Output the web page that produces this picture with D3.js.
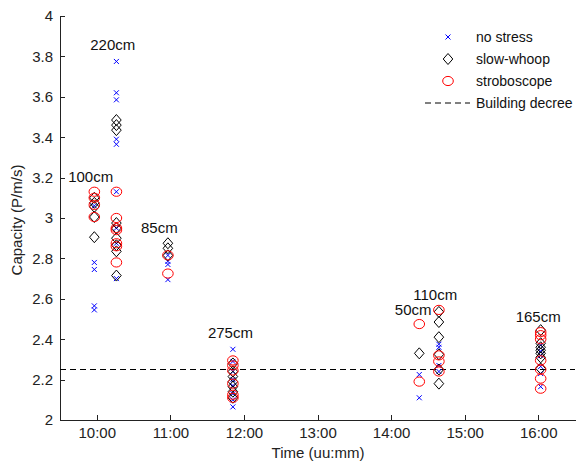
<!DOCTYPE html>
<html lang="en">
<head>
<meta charset="utf-8">
<title>Capacity vs time</title>
<script src="https://d3js.org/d3.v7.min.js"></script>
<style>
  body { margin: 0; background: #fff; }
  svg { font-family: "Liberation Sans", Arial, sans-serif; }
  .axis path, .axis line { stroke: #222; shape-rendering: crispEdges; }
  .axis text { font-size: 15px; fill: #222; font-family: "Liberation Sans", Arial, sans-serif; }
</style>
</head>
<body>
<div id="chart"></div>
<script>
// measured points [time, capacity]
var noStress = [
  ["9:58",3.06],["9:58",2.78],["9:58",2.745],["9:58",2.565],["9:58",2.545],
  ["10:16",3.775],["10:16",3.62],["10:16",3.585],["10:16",3.39],["10:16",3.365],["10:16",3.13],["10:16",2.95],["10:16",2.875],["10:16",2.70],
  ["10:58",2.815],["10:58",2.785],["10:58",2.77],["10:58",2.695],
  ["11:51",2.35],["11:51",2.29],["11:51",2.24],["11:51",2.20],["11:51",2.17],["11:51",2.13],["11:51",2.10],["11:51",2.065],
  ["14:23",2.225],["14:23",2.11],
  ["14:39",2.375],["14:39",2.36],["14:39",2.27],["14:39",2.24],
  ["16:02",2.37],["16:02",2.34],["16:02",2.32],["16:02",2.265],["16:02",2.23],["16:02",2.165]
];
var slowWhoop = [
  ["9:58",3.10],["9:58",3.075],["9:58",3.055],["9:58",3.005],["9:58",2.905],
  ["10:16",3.485],["10:16",3.46],["10:16",3.435],["10:16",2.975],["10:16",2.95],["10:16",2.90],["10:16",2.865],["10:16",2.835],["10:16",2.715],
  ["10:58",2.875],["10:58",2.85],["10:58",2.815],
  ["11:51",2.28],["11:51",2.24],["11:51",2.215],["11:51",2.19],["11:51",2.165],["11:51",2.14],["11:51",2.11],
  ["14:23",2.33],
  ["14:39",2.535],["14:39",2.485],["14:39",2.41],["14:39",2.325],["14:39",2.25],["14:39",2.18],
  ["16:02",2.445],["16:02",2.38],["16:02",2.36],["16:02",2.345],["16:02",2.33],["16:02",2.31],["16:02",2.255]
];
var stroboscope = [
  ["9:58",3.13],["9:58",3.10],["9:58",3.065],["9:58",3.005],
  ["10:16",3.13],["10:16",3.00],["10:16",2.95],["10:16",2.94],["10:16",2.875],["10:16",2.86],["10:16",2.78],
  ["10:58",2.815],["10:58",2.725],
  ["11:51",2.295],["11:51",2.27],["11:51",2.245],["11:51",2.18],["11:51",2.125],["11:51",2.11],
  ["14:23",2.475],["14:23",2.19],
  ["14:39",2.545],["14:39",2.32],["14:39",2.29],["14:39",2.24],
  ["16:02",2.435],["16:02",2.42],["16:02",2.40],["16:02",2.295],["16:02",2.25],["16:02",2.205],["16:02",2.155]
];
var decree = 2.25;

// height annotations [text, time, capacity]
var heights = [
  ["100cm","9:55",3.178],["220cm","10:13",3.832],["85cm","10:51",2.926],
  ["275cm","11:49",2.406],["50cm","14:18",2.52],["110cm","14:36",2.594],["165cm","16:00",2.485]
];

var timeTicks = ["10:00","11:00","12:00","13:00","14:00","15:00","16:00"];
var capTicks = [2,2.2,2.4,2.6,2.8,3,3.2,3.4,3.6,3.8,4];
var legendNames = ["no stress","slow-whoop","stroboscope","Building decree"];

var W = 577, H = 464;
var parse = d3.timeParse("%H:%M");

var svg = d3.select("#chart").append("svg")
  .attr("width", W).attr("height", H);

var x = d3.scaleTime()
  .domain([parse("9:30"), parse("16:30")])
  .range([60, 575]);
var y = d3.scaleLinear()
  .domain([2, 4])
  .range([420, 16]);

svg.append("g")
  .attr("class", "axis")
  .attr("transform", "translate(0,420)")
  .call(d3.axisBottom(x).tickValues(timeTicks.map(parse))
    .tickFormat(d3.timeFormat("%H:%M")).tickSizeInner(-5).tickSizeOuter(0).tickPadding(7));

svg.append("g")
  .attr("class", "axis")
  .attr("transform", "translate(60,0)")
  .call(d3.axisLeft(y).tickValues(capTicks)
    .tickFormat(d3.format("~g")).tickSizeInner(-5).tickSizeOuter(0).tickPadding(7));

svg.append("text")
  .attr("x", 318).attr("y", 458)
  .attr("text-anchor", "middle")
  .style("font-size", "15px").style("fill", "#222")
  .text("Time (uu:mm)");

svg.append("text")
  .attr("transform", "translate(22,220) rotate(-90)")
  .attr("text-anchor", "middle")
  .style("font-size", "15px").style("fill", "#222")
  .text("Capacity (P/m/s)");

// decree line
svg.append("line")
  .attr("x1", x.range()[0]).attr("x2", x.range()[1])
  .attr("y1", y(decree)).attr("y2", y(decree))
  .attr("stroke", "#000").attr("stroke-dasharray", "6,4");

// marker painters
function cross(g, cx, cy) {
  g.append("path")
    .attr("d", "M" + (cx-2.5) + "," + (cy-2.5) + "L" + (cx+2.5) + "," + (cy+2.5) +
               "M" + (cx-2.5) + "," + (cy+2.5) + "L" + (cx+2.5) + "," + (cy-2.5))
    .attr("stroke", "#0000ff").attr("stroke-width", 1).attr("fill", "none");
}
function diamond(g, cx, cy) {
  g.append("path")
    .attr("d", "M" + cx + "," + (cy-5.5) + "L" + (cx+4.8) + "," + cy +
               "L" + cx + "," + (cy+5.5) + "L" + (cx-4.8) + "," + cy + "Z")
    .attr("stroke", "#000").attr("stroke-width", 1).attr("fill", "none");
}
function circ(g, cx, cy) {
  g.append("ellipse")
    .attr("cx", cx).attr("cy", cy).attr("rx", 5.3).attr("ry", 4.6)
    .attr("stroke", "#ff0000").attr("stroke-width", 1).attr("fill", "none");
}

var pts = svg.append("g");
noStress.forEach(function(d) { cross(pts, x(parse(d[0])), y(d[1])); });
slowWhoop.forEach(function(d) { diamond(pts, x(parse(d[0])), y(d[1])); });
stroboscope.forEach(function(d) { circ(pts, x(parse(d[0])), y(d[1])); });

svg.append("g").selectAll("text")
  .data(heights)
  .enter().append("text")
  .attr("x", function(d) { return x(parse(d[1])); })
  .attr("y", function(d) { return y(d[2]); })
  .attr("text-anchor", "middle")
  .style("font-size", "15px").style("fill", "#111")
  .text(function(d) { return d[0]; });

// legend
var leg = svg.append("g");
var painters = [cross, diamond, circ];
legendNames.forEach(function(name, i) {
  var ly = 37 + i * 22;
  if (i < 3) painters[i](leg, 448, ly);
  else leg.append("line").attr("x1", 425).attr("x2", 470).attr("y1", ly).attr("y2", ly)
    .attr("stroke", "#000").attr("stroke-dasharray", "6,4");
  leg.append("text").attr("x", 476).attr("y", ly + 5)
    .style("font-size", "14px").style("fill", "#111").text(name);
});
</script>
</body>
</html>
